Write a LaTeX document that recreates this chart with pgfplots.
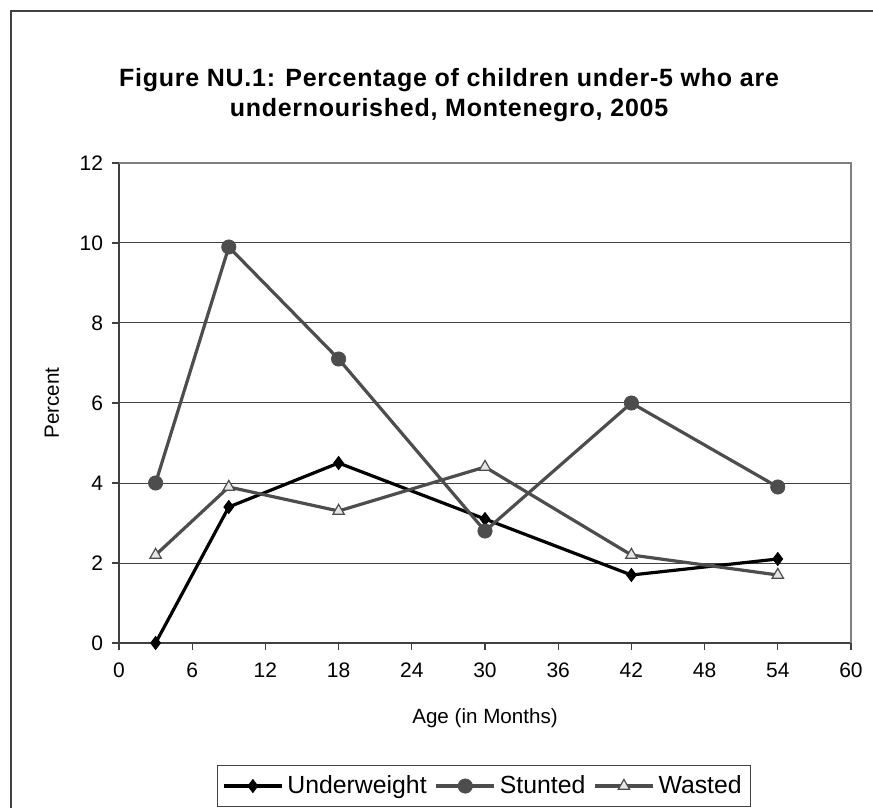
\documentclass[border=0pt]{standalone}
\usepackage{pgfplots}
\pgfplotsset{compat=1.18}
\usepackage{fontspec}
\setmainfont{Liberation Sans}
\definecolor{dg}{HTML}{4D4D4D}
\definecolor{ax}{HTML}{404040}
\definecolor{lg}{HTML}{E6E6E6}
\begin{document}
\begin{tikzpicture}
\useasboundingbox (-59.5bp,-82.5bp) rectangle (377bp,321.5bp);
\begin{axis}[
  at={(0,0)}, anchor=south west,
  scale only axis, width=366bp, height=240bp,
  xmin=0, xmax=60, ymin=0, ymax=12,
  xtick={0,6,...,60}, ytick={0,2,...,12},
  axis lines*=left,
  axis line style={ax, line width=0.9bp},
  tick align=outside, major tick length=3.5bp,
  tick style={ax, line width=0.6bp},
  ymajorgrids, grid style={ax, line width=0.5bp},
  ticklabel style={font=\fontsize{10.5bp}{12bp}\selectfont},
  /pgf/number format/assume math mode=true,
  xlabel={Age (in Months)}, ylabel={Percent},
  label style={font=\fontsize{10.3bp}{12bp}\selectfont},
  xlabel style={at={(axis description cs:0.5,0)}, anchor=center, yshift=-37.5bp},
  ylabel style={at={(axis description cs:0,0.5)}, anchor=center, xshift=0bp, yshift=33.5bp},
  xticklabel style={yshift=-3bp},
  yticklabel style={xshift=-1bp},
  legend columns=3,
  legend style={at={(axis description cs:0.4986,-0.298)}, anchor=center,
    draw=ax, line width=0.6bp, font=\fontsize{12.4bp}{14bp}\selectfont,
    inner xsep=2.5bp, inner ysep=3bp,
    /tikz/every even column/.append style={column sep=2bp}},
  legend image code/.code={\draw[mark repeat=2,mark phase=2] plot coordinates {(0bp,0bp)(14.5bp,0bp)(29bp,0bp)};},
  clip=false,
]
\draw[gray, line width=0.8bp] (rel axis cs:0,1) -- (rel axis cs:1,1) -- (rel axis cs:1,0);
\addplot[black, line width=1.6bp, mark=diamond*, mark size=3.2bp, mark options={fill=black, line width=0.5bp}]
  coordinates {(3,0) (9,3.4) (18,4.5) (30,3.1) (42,1.7) (54,2.1)};
\addlegendentry{Underweight}
\addplot[dg, line width=1.6bp, mark=*, mark size=3.6bp, mark options={fill=dg, draw=dg, line width=0.3bp}]
  coordinates {(3,4.0) (9,9.9) (18,7.1) (30,2.8) (42,6.0) (54,3.9)};
\addlegendentry{Stunted}
\addplot[dg, line width=1.6bp, mark=triangle*, mark size=3.3bp, mark options={fill=lg, draw=dg, line width=0.6bp}]
  coordinates {(3,2.2) (9,3.9) (18,3.3) (30,4.4) (42,2.2) (54,1.7)};
\addlegendentry{Wasted}
\end{axis}
\draw[ax, line width=1bp] (-54bp,-82.5bp) -- (-54bp,316bp) -- (377bp,316bp);
\node[align=center, font=\fontsize{12.5bp}{15bp}\selectfont\bfseries\addfontfeature{LetterSpace=3}] at (165bp,274bp)
  {Figure NU.1: Percentage of children under-5 who are\\undernourished, Montenegro, 2005};
\end{tikzpicture}
\end{document}
